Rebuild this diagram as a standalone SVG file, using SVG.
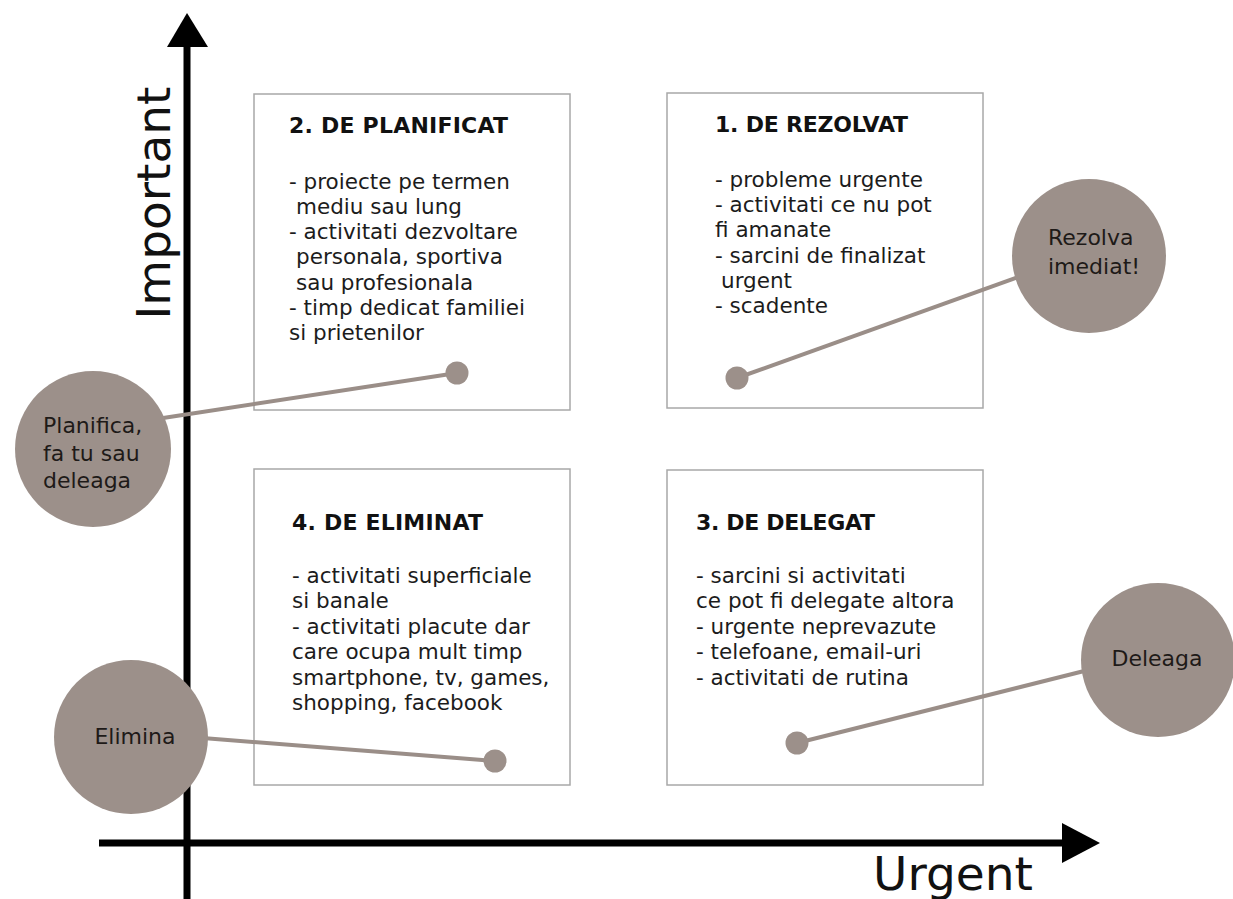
<svg xmlns="http://www.w3.org/2000/svg" width="1233" height="899" viewBox="0 0 1233 899">
<style>
.box{fill:none;stroke:#a8a8a8;stroke-width:1.5}
.title{font-family:"DejaVu Sans","Liberation Sans",sans-serif;font-weight:bold;font-size:22px;fill:#111}
.body{font-family:"DejaVu Sans","Liberation Sans",sans-serif;font-size:21.5px;fill:#1c1c1c}
.bub{fill:#9c908a}
.btxt{font-family:"DejaVu Sans","Liberation Sans",sans-serif;font-size:22px;fill:#1e1a18}
.conn{stroke:#9a8e88;stroke-width:4;fill:none}
.axis{stroke:#000;stroke-width:7}
.axlbl{font-family:"DejaVu Sans","Liberation Sans",sans-serif;font-size:47px;fill:#111}
</style>
<defs>
<marker id="dot" markerUnits="userSpaceOnUse" markerWidth="26" markerHeight="26" refX="13" refY="13" viewBox="0 0 26 26">
<circle cx="13" cy="13" r="11.5" fill="#9c908a"/>
</marker>
</defs>
<rect width="1233" height="899" fill="#fff"/>
<g id="axes">
<line class="axis" x1="187" y1="46" x2="187" y2="899"/>
<polygon points="167,47 187,13 208,47" fill="#000"/>
<line class="axis" x1="99" y1="843" x2="1064" y2="843"/>
<polygon points="1062,823 1100,843 1062,863" fill="#000"/>
<text class="axlbl" transform="translate(170,203) rotate(-90)" text-anchor="middle">Important</text>
<text class="axlbl" x="873" y="890">Urgent</text>
</g>
<g id="q2">
<rect class="box" x="254" y="94" width="316" height="316"/>
<text class="title" x="289" y="133" textLength="219">2. DE PLANIFICAT</text>
<text class="body">
<tspan x="289" y="189">- proiecte pe termen</tspan>
<tspan x="296" y="214">mediu sau lung</tspan>
<tspan x="289" y="239">- activitati dezvoltare</tspan>
<tspan x="296" y="264">personala, sportiva</tspan>
<tspan x="296" y="290">sau profesionala</tspan>
<tspan x="289" y="315">- timp dedicat familiei</tspan>
<tspan x="289" y="340">si prietenilor</tspan>
</text>
</g>
<g id="q1">
<rect class="box" x="667" y="93" width="316" height="315"/>
<text class="title" x="715" y="132" textLength="193">1. DE REZOLVAT</text>
<text class="body">
<tspan x="715" y="187">- probleme urgente</tspan>
<tspan x="715" y="212">- activitati ce nu pot</tspan>
<tspan x="715" y="237">fi amanate</tspan>
<tspan x="715" y="263">- sarcini de finalizat</tspan>
<tspan x="721" y="288">urgent</tspan>
<tspan x="715" y="313">- scadente</tspan>
</text>
</g>
<g id="q4">
<rect class="box" x="254" y="469" width="316" height="316"/>
<text class="title" x="292" y="530" textLength="191">4. DE ELIMINAT</text>
<text class="body">
<tspan x="292" y="583">- activitati superficiale</tspan>
<tspan x="292" y="608">si banale</tspan>
<tspan x="292" y="634">- activitati placute dar</tspan>
<tspan x="292" y="659">care ocupa mult timp</tspan>
<tspan x="292" y="685">smartphone, tv, games,</tspan>
<tspan x="292" y="710">shopping, facebook</tspan>
</text>
</g>
<g id="q3">
<rect class="box" x="667" y="470" width="316" height="315"/>
<text class="title" x="696" y="530" textLength="179">3. DE DELEGAT</text>
<text class="body">
<tspan x="696" y="583">- sarcini si activitati</tspan>
<tspan x="696" y="608">ce pot fi delegate altora</tspan>
<tspan x="696" y="634">- urgente neprevazute</tspan>
<tspan x="696" y="659">- telefoane, email-uri</tspan>
<tspan x="696" y="685">- activitati de rutina</tspan>
</text>
</g>
<g id="connectors">
<line class="conn" x1="150" y1="420" x2="457" y2="373" marker-end="url(#dot)"/>
<line class="conn" x1="1060" y1="262" x2="737" y2="378" marker-end="url(#dot)"/>
<line class="conn" x1="190" y1="737" x2="495" y2="761" marker-end="url(#dot)"/>
<line class="conn" x1="1120" y1="662" x2="797" y2="743" marker-end="url(#dot)"/>
</g>
<g id="c-planifica">
<circle class="bub" cx="93" cy="449" r="78"/>
<text class="btxt"><tspan x="43" y="433">Planifica,</tspan><tspan x="43" y="461">fa tu sau</tspan><tspan x="43" y="488">deleaga</tspan></text>
</g>
<g id="c-rezolva">
<circle class="bub" cx="1089" cy="256" r="77"/>
<text class="btxt"><tspan x="1048" y="245">Rezolva</tspan><tspan x="1048" y="274">imediat!</tspan></text>
</g>
<g id="c-elimina">
<circle class="bub" cx="131" cy="737" r="77"/>
<text class="btxt" x="135" y="744" text-anchor="middle">Elimina</text>
</g>
<g id="c-deleaga">
<circle class="bub" cx="1158" cy="660" r="77"/>
<text class="btxt" x="1157" y="666" text-anchor="middle">Deleaga</text>
</g>
</svg>
